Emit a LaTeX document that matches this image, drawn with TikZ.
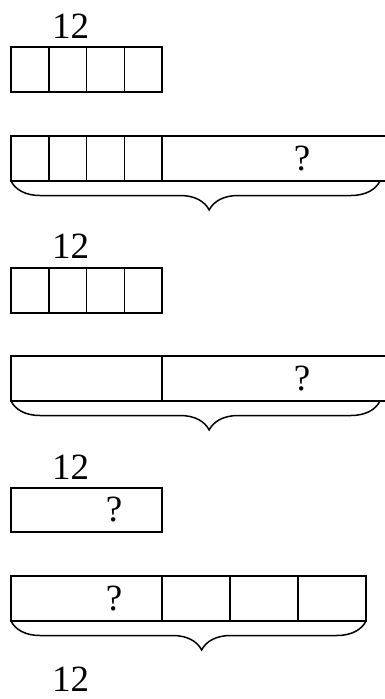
\documentclass[tikz,border=0pt]{standalone}
\usepackage{fontspec}
\setmainfont{Liberation Serif}
\usetikzlibrary{positioning, decorations.pathreplacing}
\tikzset{
    cell/.style={rectangle, draw=black, line width=1.5pt, outer sep=0pt, inner sep=0pt, minimum height=45pt},
    unit/.style={cell, minimum width=37.75pt},
    numlabel/.style={inner sep=0pt, font=\fontsize{37}{40}\selectfont},
    qmark/.style={inner sep=0pt, font=\fontsize{37}{40}\selectfont},
    total/.style={decorate, decoration={brace, mirror, amplitude=29pt, aspect=0.537}, line width=1.5pt}
}
\begin{document}
\begin{tikzpicture}[x=1pt, y=-1pt]
    \useasboundingbox (0,0) rectangle (384,699);

    % Part 1: four units, then the bar
    \node[numlabel, anchor=base] (n1) at (70.5,38) {12};
    \node[unit, anchor=north west] (a1) at (11,47) {};
    \node[unit, right=0pt of a1] (a2) {};
    \node[unit, right=0pt of a2] (a3) {};
    \node[unit, right=0pt of a3] (a4) {};

    \node[unit, anchor=north west] (b1) at (11,136) {};
    \node[unit, right=0pt of b1] (b2) {};
    \node[unit, right=0pt of b2] (b3) {};
    \node[unit, right=0pt of b3] (b4) {};
    \node[cell, minimum width=230pt, right=0pt of b4] (b5) {};
    \node[qmark] (q1) at ([xshift=140pt]b5.west) {?};
    \coordinate (e1) at (380,181);
    \draw[total] (b1.south west) -- (e1);

    % Part 2: four units, then two parts
    \node[numlabel, anchor=base] (n2) at (70.5,258) {12};
    \node[unit, anchor=north west] (c1) at (11,268) {};
    \node[unit, right=0pt of c1] (c2) {};
    \node[unit, right=0pt of c2] (c3) {};
    \node[unit, right=0pt of c3] (c4) {};

    \node[cell, minimum width=151pt, anchor=north west] (d1) at (11,356) {};
    \node[cell, minimum width=230pt, right=0pt of d1] (d2) {};
    \node[qmark] (q2) at ([xshift=140pt]d2.west) {?};
    \coordinate (e2) at (380,401);
    \draw[total] (d1.south west) -- (e2);

    % Part 3: one part, then the bar of four
    \node[numlabel, anchor=base] (n3) at (70.5,479) {12};
    \node[cell, minimum width=151pt, minimum height=44pt, anchor=north west] (f1) at (11,488) {};
    \node[qmark] (q3) at ([xshift=27.5pt]f1.center) {?};

    \node[cell, minimum width=151pt, anchor=north west] (g1) at (11,576) {};
    \node[qmark] (q4) at ([xshift=27.5pt]g1.center) {?};
    \node[cell, minimum width=68pt, right=0pt of g1] (g2) {};
    \node[cell, minimum width=68pt, right=0pt of g2] (g3) {};
    \node[cell, minimum width=68pt, right=0pt of g3] (g4) {};
    \draw[total] (g1.south west) -- (g4.south east);

    \node[numlabel, anchor=base] (n4) at (70.5,691) {12};

\end{tikzpicture}
\end{document}
